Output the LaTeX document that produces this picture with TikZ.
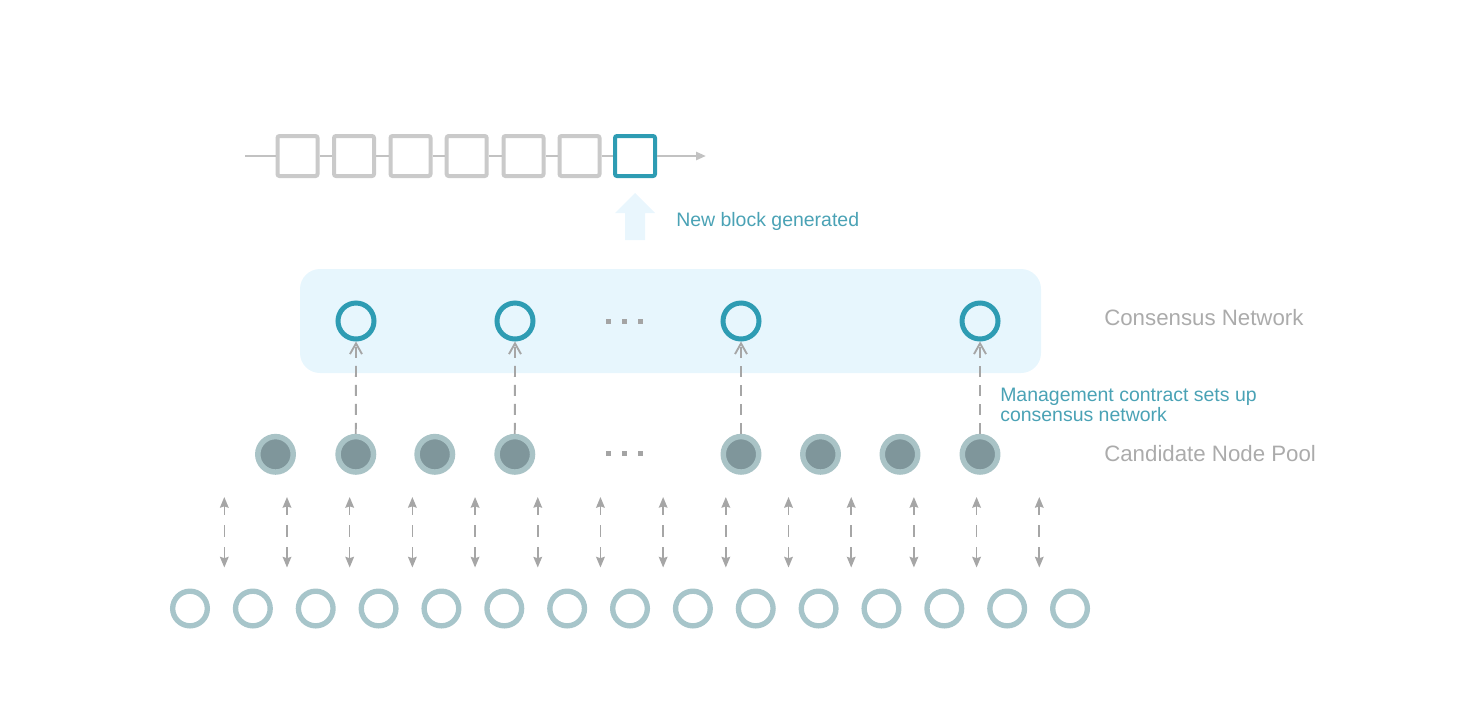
\documentclass[tikz,border=0pt]{standalone}
\usepackage{fontspec}
\setmainfont{Liberation Sans}
\usetikzlibrary{arrows.meta}
\definecolor{tealring}{HTML}{2E9CB3}
\definecolor{tealtext}{HTML}{4AA2B5}
\definecolor{boxgray}{HTML}{CACACA}
\definecolor{chaingray}{HTML}{C2C2C2}
\definecolor{labelgray}{HTML}{ABABAB}
\definecolor{bgblue}{HTML}{E7F6FD}
\definecolor{arrowblue}{HTML}{E9F6FD}
\definecolor{candlight}{HTML}{A9C3C6}
\definecolor{canddark}{HTML}{7F969B}
\definecolor{poolring}{HTML}{A7C5CA}
\definecolor{dashgray}{HTML}{A6A6A6}
\definecolor{dotgray}{HTML}{A4A4A4}
\begin{document}
\begin{tikzpicture}[x=0.75pt,y=-0.75pt,
  blk/.style={draw=boxgray, line width=3pt, minimum size=30pt, inner sep=0pt, rounded corners=1.5pt},
  newblk/.style={blk, draw=tealring},
  chainline/.style={draw=chaingray, line width=2.2pt},
  panel/.style={fill=bgblue, draw=none, rounded corners=15pt, minimum width=555.75pt, minimum height=78pt, inner sep=0pt},
  cnode/.style={circle, draw=tealring, line width=3.75pt, minimum size=27pt, inner sep=0pt},
  cand/.style={circle, draw=candlight, fill=canddark, line width=4.1pt, minimum size=26.6pt, inner sep=0pt},
  pool/.style={circle, draw=poolring, line width=4pt, minimum size=26pt, inner sep=0pt},
  selarrow/.style={draw=dashgray, line width=1.4pt, dash pattern=on 8.25pt off 6pt, -{Straight Barb[length=8pt,width=9pt,line width=1.4pt]}},
  dbl/.style={draw=dashgray, line width=1.2pt, dash pattern=on 7pt off 7.5pt on 9pt off 7.5pt on 9pt,
     {Stealth[length=8pt,width=6.5pt,inset=1pt]}-{Stealth[length=8pt,width=6.5pt,inset=1pt]}},
  teallabel/.style={text=tealtext, inner sep=0pt, font={\fontsize{14.6pt}{15pt}\selectfont}},
  graylabel/.style={text=labelgray, inner sep=0pt, font={\fontsize{16.7pt}{20pt}\selectfont}}
]
\useasboundingbox (0,0) rectangle (1462,719);

% blockchain
\node[blk] (b1) at (297.5,156) {};
\node[blk] (b2) at (354,156) {};
\node[blk] (b3) at (410.5,156) {};
\node[blk] (b4) at (466.7,156) {};
\node[blk] (b5) at (523.5,156) {};
\node[blk] (b6) at (579.5,156) {};
\node[newblk] (b7) at (635,156) {};
\coordinate (cs) at (245,156);
\coordinate (ce) at (706,156);
\draw[chainline] (cs) -- (b1.west);
\draw[chainline] (b1.east) -- (b2.west);
\draw[chainline] (b2.east) -- (b3.west);
\draw[chainline] (b3.east) -- (b4.west);
\draw[chainline] (b4.east) -- (b5.west);
\draw[chainline] (b5.east) -- (b6.west);
\draw[chainline] (b6.east) -- (b7.west);
\draw[chainline, -{Triangle[length=7.5pt,width=6pt]}] (b7.east) -- (ce);

% new block arrow
\fill[arrowblue] (625,240) -- (645,240) -- (645,213) -- (655,213) -- (635,193) -- (615,213) -- (625,213) -- cycle;
\node[teallabel, anchor=base west] (lblnew) at (676,226) {New block generated};

% consensus network panel
\node[panel] (net) at (670.5,321) {};
\node[cnode] (k1) at (356,321) {};
\node[cnode] (k2) at (515,321) {};
\node[cnode] (k3) at (741,321) {};
\node[cnode] (k4) at (980,321) {};
\foreach \x in {608.3,624.6,640.5} \fill[dotgray] (\x-2.5,318.5) rectangle (\x+2.5,323.5);
\node[graylabel, anchor=base west] (lblnet) at (1104,325) {Consensus Network};

% candidate node pool
\node[cand] (c1) at (275.5,454.3) {};
\node[cand] (c2) at (355.8,454.3) {};
\node[cand] (c3) at (434.8,454.3) {};
\node[cand] (c4) at (514.8,454.3) {};
\node[cand] (c5) at (741,454.3) {};
\node[cand] (c6) at (820.5,454.3) {};
\node[cand] (c7) at (900,454.3) {};
\node[cand] (c8) at (980,454.3) {};
\foreach \x in {608.3,624.6,640.5} \fill[dotgray] (\x-2.5,451) rectangle (\x+2.5,456);
\node[graylabel, anchor=base west] (lblpool) at (1104,461.7) {Candidate Node Pool};

% selection arrows
\draw[selarrow] (c2.north) -- (k1.south);
\draw[selarrow] (c4.north) -- (k2.south);
\draw[selarrow] (c5.north) -- (k3.south);
\draw[selarrow] (c8.north) -- (k4.south);
\node[teallabel, anchor=base west, align=left] (lblmgmt) at (1000,421.7) {Management contract sets up\\consensus network};

% bottom pool of nodes
\foreach \i in {0,...,14} {
  \node[pool] (p\i) at ({190+62.86*\i},608.5) {};
}
\foreach \i in {0,...,13} {
  \coordinate (u\i) at ({224.3+62.69*\i},497);
  \coordinate (d\i) at ({224.3+62.69*\i},567.5);
  \draw[dbl] (u\i) -- (d\i);
}
\end{tikzpicture}
\end{document}
